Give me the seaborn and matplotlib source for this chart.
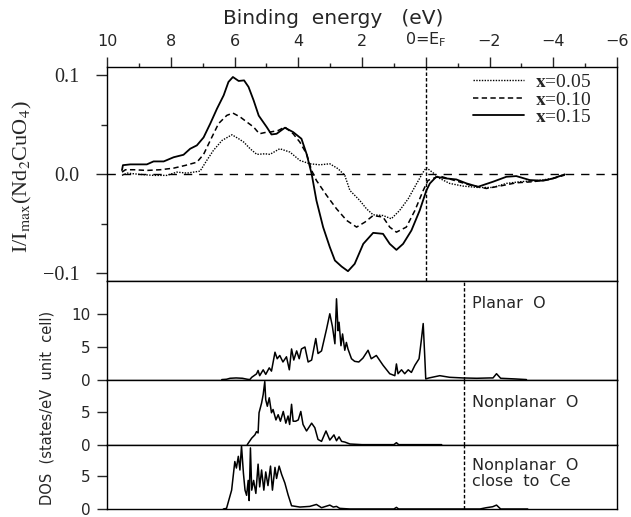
import numpy as np
import pandas as pd
import matplotlib
matplotlib.use("Agg")
import matplotlib.pyplot as plt
import seaborn as sns

# ---------------- data ----------------
# Top panel: difference spectra I/Imax(Nd2CuO4) vs binding energy (eV)
e_x015 = [9.53, 9.50, 9.27, 8.75, 8.54, 8.22, 7.91, 7.60, 7.39, 7.18,
          6.97, 6.76, 6.55, 6.34, 6.19, 6.05, 5.87, 5.70, 5.56, 5.40,
          5.24, 4.99, 4.84, 4.68, 4.42, 4.16, 3.90, 3.74, 3.58, 3.43,
          3.22, 3.01, 2.85, 2.64, 2.44, 2.23, 1.96, 1.65, 1.34, 1.13,
          0.92, 0.71, 0.45, 0.19, -0.02, -0.13, -0.33, -0.65, -0.96, -1.28,
          -1.64, -2.11, -2.53, -2.84, -3.26, -3.68, -3.99, -4.36]
v_x015 = [0.004, 0.009, 0.0098, 0.0098, 0.0128, 0.0128, 0.017, 0.0195, 0.0256, 0.029,
          0.037, 0.051, 0.066, 0.0795, 0.093, 0.098, 0.094, 0.0946, 0.088, 0.0744,
          0.059, 0.0475, 0.040, 0.0407, 0.0468, 0.0424, 0.0357, 0.0205, 0.0003, -0.0266,
          -0.0535, -0.0737, -0.0872, -0.0933, -0.098, -0.0906, -0.0704, -0.0593, -0.0603, -0.0704,
          -0.0765, -0.0704, -0.0569, -0.0367, -0.0165, -0.0094, -0.0027, -0.0044, -0.0054, -0.0094,
          -0.0128, -0.0077, -0.0027, -0.002, -0.006, -0.0067, -0.0044, -0.0003]

e_x010 = [9.53, 9.42, 9.16, 8.75, 8.33, 7.91, 7.54, 7.18, 6.97, 6.76,
          6.50, 6.24, 6.05, 5.82, 5.61, 5.40, 5.22, 4.98, 4.89, 4.63,
          4.42, 4.16, 3.95, 3.74, 3.58, 3.43, 3.11, 2.80, 2.48, 2.17,
          1.91, 1.65, 1.34, 1.13, 0.92, 0.61, 0.34, 0.08, -0.07, -0.23,
          -0.44, -0.86, -1.38, -1.90, -2.32, -2.84, -3.36, -3.89, -4.36]
v_x010 = [0.002, 0.0044, 0.0044, 0.0037, 0.0044, 0.006, 0.0088, 0.012, 0.0199, 0.034,
          0.051, 0.0593, 0.0616, 0.0576, 0.0525, 0.0475, 0.0407, 0.0424, 0.0424, 0.044,
          0.0475, 0.0407, 0.0323, 0.0205, 0.0037, -0.0064, -0.0215, -0.035, -0.0468, -0.0535,
          -0.0485, -0.0418, -0.0434, -0.0535, -0.0586, -0.0535, -0.0367, -0.0165, -0.0064, -0.0044,
          -0.002, -0.006, -0.011, -0.0145, -0.0121, -0.0088, -0.0077, -0.0054, -0.001]

e_x005 = [9.53, 9.37, 8.96, 8.54, 8.12, 7.81, 7.49, 7.08, 6.87, 6.66,
          6.39, 6.08, 5.87, 5.71, 5.51, 5.30, 5.04, 4.89, 4.58, 4.26,
          3.95, 3.64, 3.32, 3.01, 2.75, 2.54, 2.38, 2.07, 1.86, 1.65,
          1.34, 1.08, 0.82, 0.55, 0.29, 0.08, -0.02, -0.23, -0.44, -0.75,
          -1.17, -1.64, -2.11, -2.53, -2.95, -3.47, -3.99, -4.36]
v_x005 = [-0.0013, 0.001, -0.0003, -0.0013, -0.0013, 0.002, 0.001, 0.003, 0.0138, 0.024,
          0.034, 0.0397, 0.0357, 0.0323, 0.0256, 0.0199, 0.0205, 0.0199, 0.0256, 0.0222,
          0.0138, 0.0104, 0.0094, 0.0104, 0.0054, -0.0013, -0.0165, -0.0266, -0.035, -0.0411,
          -0.0418, -0.0451, -0.0367, -0.0249, -0.0098, 0.002, 0.0065, 0.0013, -0.0044, -0.0094,
          -0.0121, -0.0135, -0.0135, -0.0094, -0.0077, -0.0067, -0.0044, -0.0003]

series_labels = [r"$\mathbf{x}$=0.05", r"$\mathbf{x}$=0.10", r"$\mathbf{x}$=0.15"]

# Lower panels: DOS (states/eV unit cell)
e_planar = [6.40, 6.25, 6.14, 5.95, 5.75, 5.60, 5.52, 5.46, 5.31, 5.26,
            5.21, 5.10, 5.02, 4.91, 4.84, 4.73, 4.66, 4.58, 4.48, 4.37,
            4.28, 4.21, 4.14, 4.05, 3.97, 3.90, 3.79, 3.69, 3.58, 3.45,
            3.38, 3.27, 3.11, 3.01, 2.93, 2.85, 2.80, 2.75, 2.72, 2.66,
            2.61, 2.54, 2.49, 2.44, 2.33, 2.23, 2.10, 1.97, 1.81, 1.71,
            1.55, 1.34, 1.13, 0.97, 0.92, 0.87, 0.76, 0.66, 0.55, 0.45,
            0.34, 0.21, 0.14, 0.08, 0.03, 0.00, -0.10, -0.44, -0.75, -1.17,
            -1.60, -2.00, -2.11, -2.22, -2.35, -2.80, -3.16]
d_planar = [0.0, 0.05, 0.2, 0.25, 0.2, 0.05, 0.0, 0.35, 0.87, 1.4,
            0.6, 1.5, 0.8, 1.8, 1.3, 4.2, 3.2, 3.7, 2.7, 3.5,
            1.5, 4.7, 3.0, 4.4, 3.2, 4.7, 5.0, 2.7, 3.0, 6.3,
            4.0, 4.4, 7.8, 10.1, 8.2, 5.5, 12.4, 7.5, 8.8, 5.2,
            7.0, 4.5, 5.7, 4.7, 3.2, 2.8, 2.7, 3.3, 4.5, 3.2,
            3.7, 2.2, 0.9, 0.6, 2.4, 0.9, 1.5, 0.9, 1.5, 1.1,
            2.2, 3.2, 6.0, 8.6, 3.4, 0.1, 0.25, 0.6, 0.35, 0.25,
            0.2, 0.25, 0.25, 0.9, 0.2, 0.1, 0.0]

e_nonplanar = [5.60, 5.46, 5.36, 5.31, 5.26, 5.23, 5.15, 5.10, 5.05, 5.02,
               4.97, 4.91, 4.84, 4.79, 4.70, 4.63, 4.56, 4.47, 4.39, 4.32,
               4.27, 4.21, 4.16, 4.08, 4.00, 3.92, 3.85, 3.74, 3.58, 3.48,
               3.38, 3.27, 3.13, 3.01, 2.88, 2.80, 2.72, 2.64, 2.54, 2.38,
               2.00, 1.00, 0.92, 0.85, -0.50]
d_nonplanar = [0.0, 1.0, 1.5, 2.0, 1.8, 4.9, 6.4, 7.7, 9.7, 6.9,
               5.9, 7.2, 4.9, 5.4, 3.8, 4.6, 3.6, 5.1, 3.3, 4.4,
               3.1, 6.2, 3.6, 3.6, 3.8, 5.1, 3.1, 2.1, 3.3, 2.6,
               0.8, 0.5, 2.1, 0.7, 1.5, 0.6, 1.2, 0.5, 0.4, 0.1,
               0.0, 0.0, 0.3, 0.0, 0.0]

e_ce = [6.35, 6.25, 6.09, 5.99, 5.94, 5.88, 5.83, 5.78, 5.72, 5.67,
        5.62, 5.57, 5.54, 5.50, 5.46, 5.40, 5.33, 5.26, 5.21, 5.15,
        5.08, 5.02, 4.95, 4.87, 4.81, 4.73, 4.68, 4.60, 4.52, 4.42,
        4.32, 4.21, 3.95, 3.64, 3.43, 3.27, 3.01, 2.90, 2.80, 2.70,
        2.38, 1.00, 0.92, 0.85, -1.70, -1.90, -2.10, -2.22, -2.35, -3.20]
d_ce = [0.0, 0.1, 2.9, 7.3, 6.3, 8.1, 6.0, 9.7, 5.5, 2.9,
        2.1, 4.4, 1.3, 9.4, 2.9, 4.4, 2.4, 6.9, 3.4, 6.0,
        2.9, 5.7, 3.6, 6.6, 2.9, 6.4, 4.7, 6.6, 5.3, 4.0,
        2.2, 0.5, 0.3, 0.4, 0.7, 0.2, 0.6, 0.3, 0.4, 0.1,
        0.0, 0.0, 0.25, 0.0, 0.0, 0.2, 0.35, 0.6, 0.0, 0.0]

panel_labels = ["Planar  O", "Nonplanar  O", "Nonplanar  O\nclose  to  Ce"]
top_ticks = [10, 8, 6, 4, 2, 0, -2, -4, -6]
top_ticklabels = ["10", "8", "6", "4", "2", r"0=E$_{\mathrm{F}}$", "\u22122", "\u22124", "\u22126"]
dos_fermi = -1.2

# ---------------- style ----------------
sns.set_style("ticks")
plt.rcParams["font.family"] = ["DejaVu Sans"]
plt.rcParams["mathtext.fontset"] = "dejavusans"
plt.rcParams["axes.linewidth"] = 1.0
plt.rcParams["axes.edgecolor"] = "black"

W, H = 631, 517
fig = plt.figure(figsize=(W / 100, H / 100), dpi=100)
gs = fig.add_gridspec(4, 1, height_ratios=[214, 98.3, 65, 64.3], hspace=0,
                      left=107 / W, right=617 / W, top=1 - 67 / H, bottom=1 - 509 / H)
ax0 = fig.add_subplot(gs[0])
ax1 = fig.add_subplot(gs[1], sharex=ax0)
ax2 = fig.add_subplot(gs[2], sharex=ax0)
ax3 = fig.add_subplot(gs[3], sharex=ax0)

# ---------------- top panel ----------------
top = pd.concat([
    pd.DataFrame({"E": e_x005, "I": v_x005, "s": series_labels[0]}),
    pd.DataFrame({"E": e_x010, "I": v_x010, "s": series_labels[1]}),
    pd.DataFrame({"E": e_x015, "I": v_x015, "s": series_labels[2]}),
])
styles = {series_labels[0]: dict(ls=(0, (1, 1)), lw=1.0),
          series_labels[1]: dict(ls=(0, (3.5, 2.2)), lw=1.1),
          series_labels[2]: dict(ls="-", lw=1.3)}
for lab in series_labels:
    sub = top[top["s"] == lab]
    sns.lineplot(data=sub, x="E", y="I", ax=ax0, color="black", label=lab,
                 estimator=None, sort=False, **styles[lab])

ax0.axhline(0, color="black", lw=1.0, dashes=(6, 5))
ax0.axvline(0, color="black", lw=1.0, dashes=(2.5, 1.5))
ax0.set_xlim(10, -6)
ax0.set_ylim(-0.1081, 0.1081)

ax0.xaxis.tick_top()
ax0.xaxis.set_label_position("top")
ax0.set_xticks(top_ticks)
ax0.set_xticklabels(top_ticklabels)
ax0.set_xticks(np.arange(-5, 10, 2), minor=True)
ax0.tick_params(axis="x", which="both", direction="out", top=True, bottom=False,
                labeltop=True, labelbottom=False, labelsize=11.5, pad=6, width=1.0)
ax0.tick_params(axis="x", which="major", length=7)
ax0.tick_params(axis="x", which="minor", length=3)
ax0.set_xlabel("Binding  energy   (eV)", fontsize=14.5)
ax0.xaxis.set_label_coords((333 - 107) / 510, 1 + (67 - 24) / 214)

ax0.set_yticks([-0.1, 0.0, 0.1])
ax0.set_yticklabels(["\u22120.1", "0.0", "0.1"], fontfamily="Liberation Serif", fontsize=14.5)
ax0.set_yticks([-0.05, 0.05], minor=True)
ax0.tick_params(axis="y", which="both", direction="out", left=True, right=False,
                width=1.0, pad=12)
ax0.tick_params(axis="y", which="major", length=8)
ax0.tick_params(axis="y", which="minor", length=4)
ax0.set_ylabel(r"I/I$_{\mathrm{max}}$(Nd$_2$CuO$_4$)", fontfamily="Liberation Serif",
               fontsize=16, math_fontfamily="stix")
ax0.yaxis.set_label_coords((34 - 107) / 510, 0.49)

leg = ax0.legend(loc="upper left", bbox_to_anchor=(0.718, 0.97), frameon=False,
                 borderpad=0, borderaxespad=0, handlelength=2.6, handletextpad=0.6,
                 labelspacing=0.0, prop={"family": "Liberation Serif", "size": 14})
for t in leg.get_texts():
    t.set_math_fontfamily("stix")

# ---------------- DOS panels ----------------
dos_sets = [(ax1, e_planar, d_planar, 15.1, [0, 5, 10], 0.85),
            (ax2, e_nonplanar, d_nonplanar, 10.0, [0, 5], 0.77),
            (ax3, e_ce, d_ce, 9.9, [0, 5], 0.79)]
for (ax, e, d, ymax, yt, ty), lab in zip(dos_sets, panel_labels):
    df = pd.DataFrame({"E": e, "DOS": d})
    sns.lineplot(data=df, x="E", y="DOS", ax=ax, color="black", lw=1.1,
                 estimator=None, sort=False)
    ax.axvline(dos_fermi, color="black", lw=1.0, dashes=(2.5, 1.5))
    ax.set_ylim(0, ymax)
    ax.set_yticks(yt)
    ax.set_yticklabels([str(v) for v in yt])
    ax.tick_params(axis="y", direction="out", left=True, right=False, length=7,
                   width=1.0, labelsize=11, pad=5)
    ax.tick_params(axis="x", which="both", bottom=False, top=False,
                   labelbottom=False, labeltop=False)
    ax.set_xlabel("")
    ax.set_ylabel("")
    ax.text(0.716, ty, lab, transform=ax.transAxes, ha="left", va="top",
            fontsize=11.5, linespacing=1.1)

ax0.set_xlim(10, -6)
fig.text(47 / W, 1 - 408 / H, "DOS  (states/eV  unit  cell)", rotation=90,
         ha="center", va="center", fontsize=10.5)

fig.savefig("out.png", dpi=100, facecolor="white")
